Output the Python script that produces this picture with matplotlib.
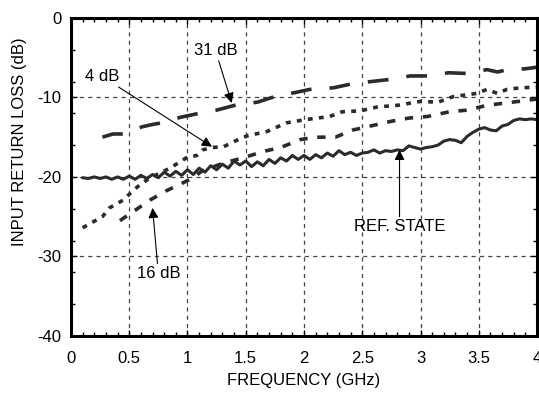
import matplotlib
matplotlib.use("Agg")
import matplotlib.pyplot as plt
from matplotlib.ticker import MultipleLocator, FormatStrFormatter

plt.rcParams['font.family'] = ['Liberation Sans', 'DejaVu Sans']
plt.rcParams['lines.scale_dashes'] = False
plt.rcParams['axes.unicode_minus'] = False

# reference state (solid)
ref_f = [0.10, 0.15, 0.20, 0.25, 0.30, 0.35, 0.40, 0.45, 0.50, 0.55,
         0.60, 0.65, 0.70, 0.75, 0.80, 0.85, 0.90, 0.95, 1.00, 1.05,
         1.10, 1.15, 1.20, 1.25, 1.30, 1.35, 1.40, 1.45, 1.50, 1.55,
         1.60, 1.65, 1.70, 1.75, 1.80, 1.85, 1.90, 1.95, 2.00, 2.05,
         2.10, 2.15, 2.20, 2.25, 2.30, 2.35, 2.40, 2.45, 2.50, 2.55,
         2.60, 2.65, 2.70, 2.75, 2.80, 2.85, 2.90, 2.95, 3.00, 3.05,
         3.10, 3.15, 3.20, 3.25, 3.30, 3.35, 3.40, 3.45, 3.50, 3.55,
         3.60, 3.65, 3.70, 3.75, 3.80, 3.85, 3.90, 3.95, 4.00]
ref_db = [-20.1, -20.2, -20.0, -20.2, -20.0, -20.3, -20.0, -20.3, -19.9, -20.3,
          -19.8, -20.2, -19.7, -20.1, -19.4, -19.9, -19.3, -19.8, -19.1, -19.7,
          -18.9, -19.4, -18.6, -19.1, -18.4, -18.9, -18.0, -18.5, -18.0, -18.7,
          -18.1, -18.6, -17.8, -18.3, -17.6, -18.0, -17.3, -17.8, -17.3, -17.8,
          -17.2, -17.6, -17.0, -17.4, -16.7, -17.2, -16.9, -17.3, -17.0, -16.9,
          -16.6, -17.0, -16.7, -16.8, -16.6, -16.7, -16.1, -16.3, -16.5, -16.3,
          -16.2, -16.0, -15.5, -15.3, -15.4, -15.7, -14.9, -14.4, -14.0, -13.8,
          -14.1, -14.2, -13.6, -13.4, -12.9, -12.7, -12.8, -12.7, -12.8]

# 4 dB state
s4_f = [0.10, 0.27, 0.33, 0.45, 0.52, 0.59, 0.68, 0.85, 0.99, 1.08, 1.13,
        1.21, 1.31, 1.45, 1.52, 1.68, 1.85, 2.01, 2.22, 2.33, 2.48, 2.63,
        2.80, 3.00, 3.15, 3.28, 3.48, 3.57, 3.66, 3.74, 3.85, 4.00]
s4_db = [-26.4, -25.0, -23.9, -22.9, -21.9, -21.0, -20.1, -18.9, -17.6, -17.3, -16.6,
         -16.3, -16.2, -15.2, -14.8, -14.3, -13.2, -12.8, -12.4, -11.8, -11.7, -11.2,
         -11.0, -10.5, -10.6, -9.9, -9.5, -9.0, -9.5, -9.0, -8.8, -8.7]

# 16 dB state
s16_f = [0.42, 0.55, 0.68, 0.81, 0.94, 1.05, 1.12, 1.30, 1.50, 1.65, 1.80,
         1.97, 2.10, 2.27, 2.42, 2.60, 2.75, 2.90, 3.06, 3.25, 3.40, 3.57,
         3.73, 3.90, 4.00]
s16_db = [-25.5, -24.2, -22.9, -21.8, -20.9, -20.1, -19.3, -18.3, -17.5, -16.8, -16.3,
          -15.3, -15.0, -15.0, -14.1, -13.5, -13.0, -12.6, -12.4, -11.8, -11.6, -11.0,
          -10.7, -10.4, -10.2]

# 31 dB state
s31_f = [0.27, 0.36, 0.45, 0.61, 0.70, 0.78, 0.94, 1.10, 1.25, 1.43, 1.60,
         1.77, 1.92, 2.08, 2.25, 2.44, 2.58, 2.76, 2.91, 3.08, 3.24, 3.42,
         3.57, 3.66, 3.75, 3.90, 4.00]
s31_db = [-15.0, -14.6, -14.6, -13.7, -13.4, -13.2, -12.5, -12.0, -11.6, -10.9, -10.6,
          -9.8, -9.4, -8.9, -8.8, -8.2, -8.0, -7.7, -7.3, -7.3, -6.9, -7.0,
          -6.5, -6.8, -6.5, -6.4, -6.2]

ink = '#2b2b2b'
fs = 12

fig = plt.figure(figsize=(5.39, 3.98), dpi=100)
ax = fig.add_axes([0.1317, 0.156, 0.8646, 0.799])

ax.plot(ref_f, ref_db, color=ink, lw=2.2, solid_capstyle='round')
ax.plot(s4_f, s4_db, color=ink, lw=2.6, dashes=(3.5, 4.5))
ax.plot(s16_f, s16_db, color=ink, lw=2.6, dashes=(6, 7))
ax.plot(s31_f, s31_db, color=ink, lw=2.6, dashes=(15, 13))

ax.set_xlim(0, 4)
ax.set_ylim(-40, 0)
ax.xaxis.set_major_locator(MultipleLocator(0.5))
ax.xaxis.set_minor_locator(MultipleLocator(0.1))
ax.xaxis.set_major_formatter(FormatStrFormatter('%g'))
ax.yaxis.set_major_locator(MultipleLocator(10))
ax.yaxis.set_minor_locator(MultipleLocator(4))
ax.tick_params(which='both', direction='in', top=True, right=True,
               labelsize=fs, width=1)
ax.tick_params(which='major', length=4)
ax.tick_params(which='minor', length=3)
ax.tick_params(axis='x', which='major', pad=11)
ax.tick_params(axis='y', which='major', pad=7)
for s in ax.spines.values():
    s.set_linewidth(2.2)

ax.grid(True, which='major', color='#444444', lw=0.9, dashes=(3, 3))

ax.set_xlabel('FREQUENCY (GHz)', fontsize=fs, labelpad=5)
ax.set_ylabel('INPUT RETURN LOSS (dB)', fontsize=fs)
ax.yaxis.set_label_coords(-0.094, 0.61)

arrow = dict(arrowstyle='-|>', color='black', lw=0.8,
             mutation_scale=15, shrinkA=0, shrinkB=0)
ax.annotate('31 dB', xy=(1.38, -10.7), xytext=(1.24, -4.1),
            ha='center', va='center', fontsize=fs, arrowprops=arrow)
ax.annotate('4 dB', xy=(1.21, -16.2), xytext=(0.27, -7.4),
            ha='center', va='center', fontsize=fs, arrowprops=arrow)
ax.annotate('16 dB', xy=(0.70, -23.9), xytext=(0.75, -32.2),
            ha='center', va='center', fontsize=fs, arrowprops=arrow)
ax.annotate('REF. STATE', xy=(2.82, -16.6), xytext=(2.82, -26.3),
            ha='center', va='center', fontsize=fs, arrowprops=arrow)

fig.savefig('out.png', dpi=100)
